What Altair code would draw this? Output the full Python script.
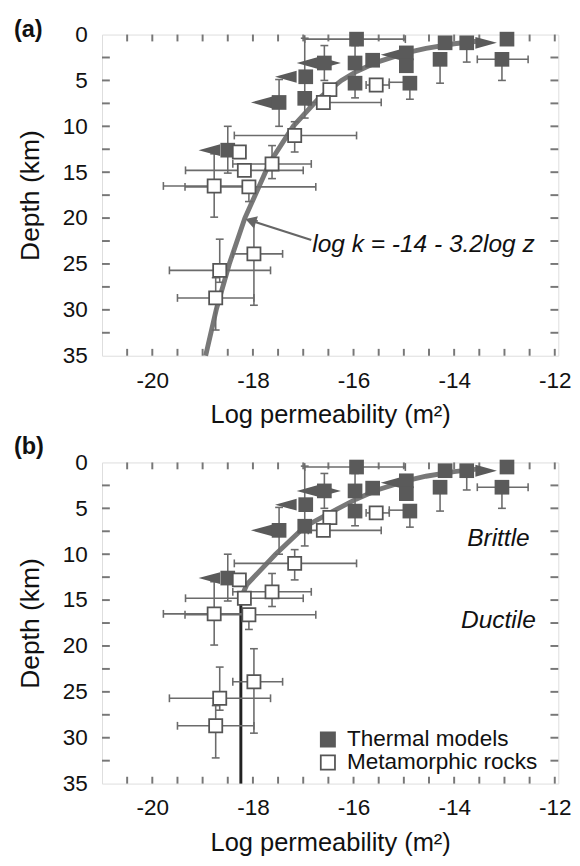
import altair as alt
import pandas as pd

# ---------------- data ----------------
# Thermal models (filled squares): log permeability, depth (km)
th_x = [-16.58, -16.95, -17.48, -16.97, -18.50, -15.94, -15.97, -15.97, -15.62,
        -14.95, -14.95, -14.88, -14.28, -14.18, -13.75, -12.95, -13.05]
th_d = [3.1, 4.6, 7.4, 6.95, 12.6, 0.5, 3.1, 5.3, 2.8,
        2.0, 3.4, 5.3, 2.7, 0.9, 0.9, 0.5, 2.7]

# Metamorphic rocks (open squares)
me_x = [-16.47, -16.60, -15.55, -17.17, -18.27, -17.62, -18.17, -18.77, -18.08,
        -17.98, -18.66, -18.74]
me_d = [6.0, 7.4, 5.5, 11.0, 12.8, 14.1, 14.8, 16.5, 16.6, 23.9, 25.7, 28.7]

# horizontal error bars: depth, low, high
hb_d = [0.5, 7.4, 5.5, 5.2, 11.0, 14.1, 14.8, 16.5, 16.6, 23.9, 25.7, 28.7, 2.7]
hb_lo = [-16.97, -16.90, -15.75, -15.29, -18.37, -18.40, -19.34, -19.78, -19.35,
         -18.40, -19.66, -19.50, -13.54]
hb_hi = [-14.97, -15.45, -15.29, -14.88, -15.94, -16.84, -17.00, -18.20, -16.75,
         -17.41, -17.65, -17.98, -12.53]

# vertical error bars: log permeability, top, bottom
vb_x = [-16.58, -17.48, -16.97, -18.50, -15.97, -14.28, -14.88, -13.75, -13.05,
        -17.17, -17.62, -18.77, -18.08, -17.98, -18.66, -18.74]
vb_lo = [1.2, 4.9, 0.4, 10.0, 1.2, 2.7, 5.3, 0.9, 2.7,
         9.5, 12.1, 13.0, 16.6, 20.3, 22.3, 26.5]
vb_hi = [5.0, 10.0, 9.1, 15.1, 6.9, 5.3, 7.05, 3.0, 5.0,
         12.8, 15.7, 19.9, 18.2, 29.5, 27.0, 32.2]

# arrow tips (bounds) on thermal-model estimates
la_x = [-17.13, -17.56, -18.04, -19.08, -15.46]
la_d = [3.1, 4.6, 7.4, 12.6, 2.2]
ra_x = [-16.25, -13.15]
ra_d = [3.1, 0.9]

# fitted curve, panel (a): log k = -14 - 3.2 log z
ca_d = [0.7, 1.0, 1.5, 2.0, 3.0, 4.0, 5.0, 7.0, 10.0, 14.0, 20.0, 25.0, 30.0, 35.0]
ca_x = [-13.50, -14.00, -14.56, -14.96, -15.53, -15.93, -16.24, -16.70, -17.20,
        -17.67, -18.16, -18.47, -18.73, -18.94]

# panel (b): curve to the brittle-ductile transition, then constant
cb_d = [0.7, 1.0, 1.5, 2.0, 3.0, 4.0, 5.0, 7.0, 10.0, 13.3, 14.8]
cb_x = [-13.50, -14.00, -14.56, -14.96, -15.53, -15.95, -16.30, -16.97, -17.55,
        -18.12, -18.24]
vl_x = [-18.24, -18.24]
vl_d = [14.8, 35.0]

# axis ticks / labels
x_ticks = [-20.5, -20.0, -19.5, -19.0, -18.5, -18.0, -17.5, -17.0, -16.5, -16.0,
           -15.5, -15.0, -14.5, -14.0, -13.5, -13.0, -12.5, -12.0]
y_ticks = [2.5, 5.0, 7.5, 10.0, 12.5, 15.0, 17.5, 20.0, 22.5, 25.0, 27.5, 30.0, 32.5]
x_labels = [-20, -18, -16, -14, -12]
y_labels = [0, 5, 10, 15, 20, 25, 30, 35]

# annotations
eq_text = ["log k = -14 - 3.2log z"]
eq_x = [-16.82]
eq_d = [22.8]
eqarrow_x = [-16.84, -18.05]
eqarrow_d = [22.4, 20.25]
eqhead_x = [-18.01]
eqhead_d = [20.35]
zone_text = ["Brittle", "Ductile"]
zone_x = [-13.12, -13.12]
zone_d = [8.3, 17.15]
leg_text = ["Thermal models", "Metamorphic rocks"]
leg_x = [-16.51, -16.51]
leg_tx = [-16.13, -16.13]
leg_d = [30.2, 32.7]
panel_labels = ["(a)", "(b)"]

# ---------------- styling ----------------
W, H = 466, 328
FONT = "Liberation Sans"
GREY_SQ = "#5a5a5a"
BAR = "#6b6b6b"
CURVE = "#787878"

xs = alt.Scale(domain=[-21, -11.93], nice=False, zero=False)
ys = alt.Scale(domain=[0, 35], nice=False, zero=False, reverse=True)

x_axis = alt.Axis(values=x_labels, title="Log permeability (m²)", ticks=False,
                  domain=False, grid=False, labelFontSize=23, titleFontSize=26,
                  labelPadding=14, titlePadding=10, labelColor="#111",
                  titleColor="#111", titleFontWeight="normal",
                  labelExpr="'' + datum.value", labelFont=FONT, titleFont=FONT)
y_axis = alt.Axis(values=y_labels, title="Depth (km)", ticks=False,
                  domain=False, grid=False, labelFontSize=23, titleFontSize=27,
                  labelPadding=15, titlePadding=18, labelColor="#111",
                  titleColor="#111", titleFontWeight="normal",
                  labelExpr="'' + datum.value", labelFont=FONT, titleFont=FONT)


def X(f):
    return alt.X(f, type="quantitative", scale=xs, axis=x_axis)


def Y(f):
    return alt.Y(f, type="quantitative", scale=ys, axis=y_axis)


df_th = pd.DataFrame({"x": th_x, "d": th_d})
df_me = pd.DataFrame({"x": me_x, "d": me_d})
df_hb = pd.DataFrame({"d": hb_d, "lo": hb_lo, "hi": hb_hi})
df_vb = pd.DataFrame({"x": vb_x, "lo": vb_lo, "hi": vb_hi})
df_hcap = pd.DataFrame({"x": hb_lo + hb_hi, "d": hb_d + hb_d})
df_vcap = pd.DataFrame({"x": vb_x + vb_x, "d": vb_lo + vb_hi})
df_la = pd.DataFrame({"x": la_x, "d": la_d})
df_ra = pd.DataFrame({"x": ra_x, "d": ra_d})
df_xt = pd.DataFrame({"v": x_ticks})
df_yt = pd.DataFrame({"v": y_ticks})
df_ca = pd.DataFrame({"x": ca_x, "d": ca_d})
df_cb = pd.DataFrame({"x": cb_x, "d": cb_d})
df_vl = pd.DataFrame({"x": vl_x, "d": vl_d})

TICK = dict(color="#777", strokeWidth=2)


def frame_ticks():
    top = alt.Chart(df_xt).mark_rule(**TICK).encode(
        x=X("v"), y=alt.value(0), y2=alt.value(7))
    bot = alt.Chart(df_xt).mark_rule(**TICK).encode(
        x=X("v"), y=alt.value(H - 7), y2=alt.value(H))
    left = alt.Chart(df_yt).mark_rule(**TICK).encode(
        y=Y("v"), x=alt.value(0), x2=alt.value(8))
    right = alt.Chart(df_yt).mark_rule(**TICK).encode(
        y=Y("v"), x=alt.value(W - 8), x2=alt.value(W))
    return [top, bot, left, right]


def data_layers():
    hb = alt.Chart(df_hb).mark_rule(color=BAR, strokeWidth=1.6).encode(
        x=X("lo"), x2="hi", y=Y("d"))
    vb = alt.Chart(df_vb).mark_rule(color=BAR, strokeWidth=1.6).encode(
        y=Y("lo"), y2="hi", x=X("x"))
    hcap = alt.Chart(df_hcap).mark_point(
        shape="M0,-1L0,1", size=64, strokeWidth=1.6, color=BAR, filled=False,
        opacity=1).encode(x=X("x"), y=Y("d"))
    vcap = alt.Chart(df_vcap).mark_point(
        shape="M-1,0L1,0", size=64, strokeWidth=1.6, color=BAR, filled=False,
        opacity=1).encode(x=X("x"), y=Y("d"))
    la = alt.Chart(df_la).mark_point(
        shape="M0,0L2,-0.55L2,0.55Z", size=484, filled=True, color=GREY_SQ,
        opacity=1).encode(x=X("x"), y=Y("d"))
    ra = alt.Chart(df_ra).mark_point(
        shape="M0,0L-2,-0.55L-2,0.55Z", size=484, filled=True, color=GREY_SQ,
        opacity=1).encode(x=X("x"), y=Y("d"))
    th = alt.Chart(df_th).mark_square(size=225, color=GREY_SQ, opacity=1).encode(
        x=X("x"), y=Y("d"))
    me = alt.Chart(df_me).mark_square(size=180, fill="white", stroke="#555",
                                      strokeWidth=1.8, opacity=1).encode(
        x=X("x"), y=Y("d"))
    return [hb, vb, hcap, vcap, la, ra, th, me]


def panel_label(t, dy):
    return alt.Chart(pd.DataFrame({"t": [t]})).mark_text(
        align="left", baseline="alphabetic", fontSize=24, fontWeight="bold",
        font=FONT, color="#111").encode(
        x=alt.value(-90), y=alt.value(dy), text="t")


# ---- panel (a)
curve_a = alt.Chart(df_ca).mark_line(color=CURVE, strokeWidth=5).encode(
    x=X("x"), y=Y("d"), order="d")
eq = alt.Chart(pd.DataFrame({"x": eq_x, "d": eq_d, "t": eq_text})).mark_text(
    align="left", baseline="middle", fontSize=25, fontStyle="italic",
    font=FONT, color="#111").encode(x=X("x"), y=Y("d"), text="t")
eq_line = alt.Chart(pd.DataFrame({"x": eqarrow_x, "d": eqarrow_d})).mark_line(
    color="#666", strokeWidth=2.2).encode(x=X("x"), y=Y("d"))
eq_head = alt.Chart(pd.DataFrame({"x": eqhead_x, "d": eqhead_d})).mark_point(
    shape="triangle", angle=288, size=170, filled=True, color="#666",
    opacity=1).encode(x=X("x"), y=Y("d"))

panel_a = alt.layer(
    *frame_ticks(), curve_a, *data_layers(), eq_line, eq_head, eq,
    panel_label(panel_labels[0], 2)
).properties(width=W, height=H)

# ---- panel (b)
curve_b = alt.Chart(df_cb).mark_line(color=CURVE, strokeWidth=5).encode(
    x=X("x"), y=Y("d"), order="d")
vline = alt.Chart(df_vl).mark_line(color="#222", strokeWidth=3).encode(
    x=X("x"), y=Y("d"))
zones = alt.Chart(pd.DataFrame({"x": zone_x, "d": zone_d, "t": zone_text})).mark_text(
    align="center", baseline="middle", fontSize=25, fontStyle="italic",
    font=FONT, color="#111").encode(x=X("x"), y=Y("d"), text="t")
df_leg = pd.DataFrame({"x": leg_x, "tx": leg_tx, "d": leg_d, "t": leg_text})
leg_sq = alt.Chart(df_leg).mark_square(size=210, strokeWidth=1.8, opacity=1).encode(
    x=X("x"), y=Y("d"),
    fill=alt.Fill("t:N", scale=alt.Scale(domain=leg_text, range=[GREY_SQ, "white"]),
                  legend=None),
    stroke=alt.Stroke("t:N", scale=alt.Scale(domain=leg_text, range=[GREY_SQ, "#555"]),
                      legend=None))
leg_tx_l = alt.Chart(df_leg).mark_text(
    align="left", baseline="middle", fontSize=23, font=FONT, color="#111").encode(
    x=X("tx"), y=Y("d"), text="t")

panel_b = alt.layer(
    *frame_ticks(), curve_b, vline, *data_layers(), zones, leg_sq, leg_tx_l,
    panel_label(panel_labels[1], -9)
).properties(width=W, height=H)

chart = alt.vconcat(panel_a, panel_b, spacing=109, bounds="flush").properties(
    padding={"left": 5, "top": 0, "right": 0, "bottom": 0}
).configure_view(
    stroke="#777", strokeWidth=2, fill="#f8f8f8"
).configure(background="white", font=FONT)

chart.save("out.html", embed_options={"renderer": "svg", "actions": False})
